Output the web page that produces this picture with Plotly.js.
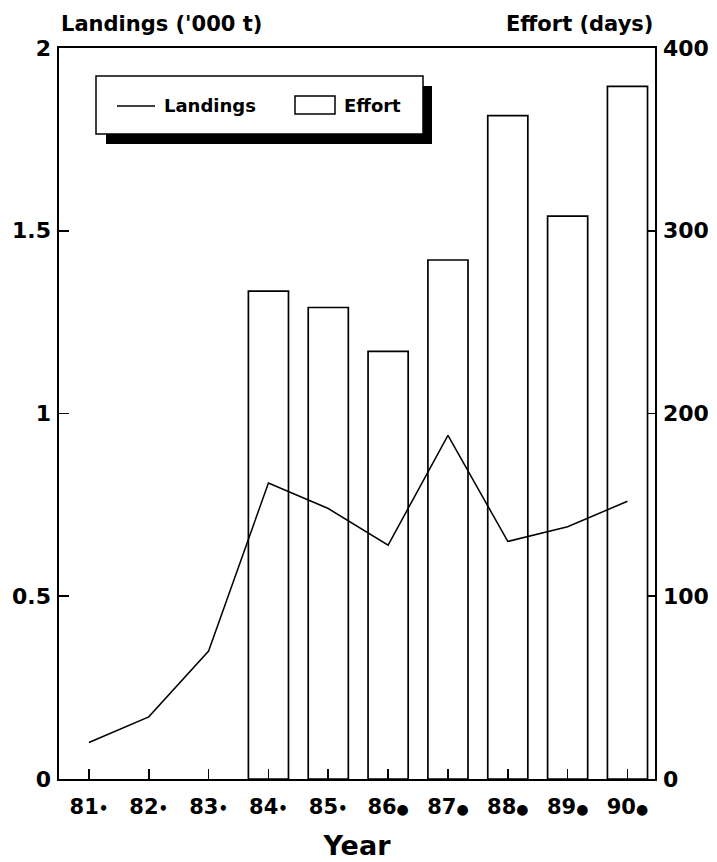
<!DOCTYPE html>
<html>
<head>
<meta charset="utf-8">
<script src="https://cdn.plot.ly/plotly-3.0.1.min.js"></script>
<style>
  html, body { margin: 0; padding: 0; background: #fff; }
  #chart { width: 717px; height: 862px; }
</style>
</head>
<body>
<div id="chart"></div>
<script>
// ---- data ----
const years = ["81", "82", "83", "84", "85", "86", "87", "88", "89", "90"];
const yearMarks = ["•", "•", "•", "•", "•", "●", "●", "●", "●", "●"];
const landings = [0.10, 0.17, 0.35, 0.81, 0.74, 0.64, 0.94, 0.65, 0.69, 0.76];
const effort = [null, null, null, 267, 258, 234, 284, 363, 308, 379];

// ---- layout helpers (decoration only) ----
const W = 717, H = 862;
const M = { l: 59, r: 62, t: 48, b: 83 };
const pw = W - M.l - M.r, ph = H - M.t - M.b;
const px = x => (x - M.l) / pw;
const py = y => (H - M.b - y) / ph;

const FONT = "DejaVu Sans, Liberation Sans, Arial, sans-serif";
const xpos = years.map((_, i) => i);
const tickText = years.map((y, i) =>
  y + (i < 5 ? "<span style='font-size:15px'>" + yearMarks[i] + "</span>"
             : "<span style='font-size:14px'>" + yearMarks[i] + "</span>"));

const traces = [
  {
    type: "bar",
    x: xpos,
    y: effort,
    yaxis: "y",
    width: 0.67,
    marker: { color: "rgba(255,255,255,0)", line: { color: "#000", width: 1.7 } },
    name: "Effort",
    showlegend: false,
    hoverinfo: "skip"
  },
  {
    type: "scatter",
    mode: "lines",
    x: xpos,
    y: landings,
    yaxis: "y2",
    line: { color: "#000", width: 1.5 },
    name: "Landings",
    showlegend: false,
    hoverinfo: "skip"
  }
];

const axisCommon = {
  showgrid: false,
  zeroline: false,
  showline: true,
  linecolor: "#000",
  linewidth: 1.6,
  ticks: "inside",
  tickcolor: "#000",
  tickwidth: 1.6,
  tickfont: { family: FONT, size: 22, color: "#000", weight: "bold" }
};

const layout = {
  width: W,
  height: H,
  margin: M,
  paper_bgcolor: "#fff",
  plot_bgcolor: "#fff",
  showlegend: false,
  font: { family: FONT, color: "#000" },
  xaxis: Object.assign({}, axisCommon, {
    range: [-0.5, 9.46],
    tickmode: "array",
    tickvals: xpos,
    ticktext: tickText,
    ticklen: 10,
    mirror: true,
    ticklabelstandoff: 8,
    tickfont: { family: FONT, size: 21, color: "#000", weight: "bold" },
    title: { text: "Year", font: { family: FONT, size: 27, color: "#000", weight: "bold" }, standoff: 18 }
  }),
  yaxis: Object.assign({}, axisCommon, {
    side: "right",
    range: [0, 400],
    dtick: 100,
    ticklen: 8,
    ticklabelstandoff: 2
  }),
  yaxis2: Object.assign({}, axisCommon, {
    side: "left",
    overlaying: "y",
    range: [0, 2],
    dtick: 0.5,
    ticklen: 10,
    ticklabelstandoff: 2
  }),
  shapes: [
    // legend shadow
    { type: "rect", xref: "paper", yref: "paper", x0: px(106), x1: px(432), y0: py(86), y1: py(144),
      fillcolor: "#000", line: { width: 0 }, layer: "above" },
    // legend box
    { type: "rect", xref: "paper", yref: "paper", x0: px(96), x1: px(423), y0: py(76), y1: py(134),
      fillcolor: "#fff", line: { color: "#000", width: 1.5 }, layer: "above" },
    // legend line sample
    { type: "line", xref: "paper", yref: "paper", x0: px(117), x1: px(155), y0: py(106), y1: py(106),
      line: { color: "#000", width: 1.5 }, layer: "above" },
    // legend bar swatch
    { type: "rect", xref: "paper", yref: "paper", x0: px(295), x1: px(335), y0: py(96), y1: py(114),
      fillcolor: "#fff", line: { color: "#000", width: 1.5 }, layer: "above" }
  ],
  annotations: [
    { text: "Landings ('000 t)", xref: "paper", yref: "paper", x: 0, y: py(24), xanchor: "left", yanchor: "middle",
      showarrow: false, font: { family: FONT, size: 21, color: "#000", weight: "bold" } },
    { text: "Effort (days)", xref: "paper", yref: "paper", x: 1, y: py(24), xanchor: "right", yanchor: "middle",
      showarrow: false, font: { family: FONT, size: 21, color: "#000", weight: "bold" } },
    { text: "Landings", xref: "paper", yref: "paper", x: px(162), y: py(106), xanchor: "left", yanchor: "middle",
      showarrow: false, font: { family: FONT, size: 18, color: "#000", weight: "bold" } },
    { text: "Effort", xref: "paper", yref: "paper", x: px(342), y: py(106), xanchor: "left", yanchor: "middle",
      showarrow: false, font: { family: FONT, size: 18, color: "#000", weight: "bold" } }
  ]
};

Plotly.newPlot("chart", traces, layout, { displayModeBar: false, staticPlot: true });
</script>
</body>
</html>
